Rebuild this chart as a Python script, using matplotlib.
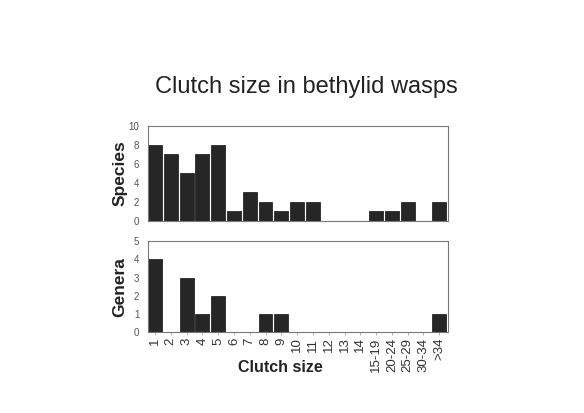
import matplotlib
matplotlib.use("Agg")
import matplotlib.pyplot as plt
import numpy as np

categories = ["1", "2", "3", "4", "5", "6", "7", "8", "9", "10", "11", "12", "13", "14",
              "15-19", "20-24", "25-29", "30-34", ">34"]
species = [8, 7, 5, 7, 8, 1, 3, 2, 1, 2, 2, 0, 0, 0, 1, 1, 2, 0, 2]
genera = [4, 0, 3, 1, 2, 0, 0, 1, 1, 0, 0, 0, 0, 0, 0, 0, 0, 0, 1]

plt.rcParams["font.family"] = ["Liberation Sans", "DejaVu Sans"]

fig = plt.figure(figsize=(5.84, 4.13), dpi=100)
ax1 = fig.add_axes([0.253, 0.465, 0.514, 0.230])
ax2 = fig.add_axes([0.253, 0.196, 0.514, 0.220])

x = np.arange(len(categories))
bar_col = "#262626"

for ax, vals, ymax, label in [(ax1, species, 10, "Species"), (ax2, genera, 5, "Genera")]:
    ax.bar(x, vals, width=0.88, color=bar_col, edgecolor="#111111", linewidth=0.5)
    ax.set_xlim(-0.46, len(categories) - 0.45)
    ax.set_ylim(0, ymax)
    ax.set_ylabel(label, fontsize=12.5, fontweight="bold", color="#222222")
    ax.yaxis.set_label_coords(-0.067, 0.5)
    for s in ax.spines.values():
        s.set_color("#777777")
        s.set_linewidth(0.8)
    ax.tick_params(axis="y", labelsize=7, colors="#555555", length=0, pad=6)
    ax.tick_params(axis="x", length=2, width=0.5, color="#999999")

ax1.set_yticks([0, 2, 4, 6, 8, 10])
ax1.set_xticks([])
ax2.set_yticks([0, 1, 2, 3, 4, 5])
ax2.set_xticks(x)
ax2.set_xticklabels(categories, rotation=90, fontsize=9.5, color="#333333")
ax2.tick_params(axis="x", pad=2)

fig.text(0.48, 0.111, "Clutch size", ha="center", va="center",
         fontsize=11.5, fontweight="bold", color="#222222")
fig.text(0.524, 0.789, "Clutch size in bethylid wasps", ha="center", va="center",
         fontsize=17, color="#222222")

fig.savefig("out.png", dpi=100)
